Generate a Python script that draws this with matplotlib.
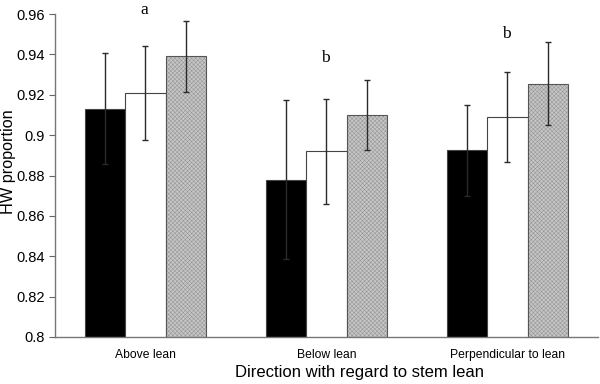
import numpy as np
import matplotlib
matplotlib.use('Agg')
import matplotlib.pyplot as plt

plt.rcParams['font.family'] = ['Liberation Sans', 'DejaVu Sans']
plt.rcParams['hatch.linewidth'] = 0.35

categories = ['Above lean', 'Below lean', 'Perpendicular to lean']
black_vals = [0.913, 0.878, 0.8925]
black_err = [0.0275, 0.0395, 0.0225]
white_vals = [0.921, 0.892, 0.909]
white_err = [0.0232, 0.026, 0.0224]
gray_vals = [0.939, 0.910, 0.9255]
gray_err = [0.0175, 0.0175, 0.0206]
letters = ['a', 'b', 'b']
letter_y = [0.962, 0.9382, 0.950]

fig = plt.figure(figsize=(6, 3.84), dpi=100)
ax = fig.add_axes([0.0915, 0.1224, 0.905, 0.841])

x = np.arange(len(categories))
w = 0.223
ekw = dict(ecolor='#2a2a2a', elinewidth=1.0, capsize=2.5, capthick=1.0)

ax.bar(x - w, black_vals, w, color='black', edgecolor='#444444', linewidth=0.8,
       yerr=black_err, error_kw=ekw)
ax.bar(x, white_vals, w, color='white', edgecolor='#444444', linewidth=0.8,
       yerr=white_err, error_kw=ekw)
# hatched fill first, then outline on top
ax.bar(x + w, gray_vals, w, color='#c6c6c6', edgecolor='#929292', linewidth=0,
       hatch='xxxxxxxx')
ax.bar(x + w, gray_vals, w, fill=False, edgecolor='#555555', linewidth=0.8,
       yerr=gray_err, error_kw=ekw)

for xi, t, yy in zip(x, letters, letter_y):
    ax.text(xi - 0.005, yy, t, ha='center', va='center', fontsize=12.5,
            family=['Liberation Serif', 'DejaVu Serif'], clip_on=False)

ax.set_ylim(0.8, 0.96)
ax.set_xlim(-0.5, 2.5)
ax.set_yticks(np.arange(0.8, 0.961, 0.02))
ax.set_yticklabels(['0.8', '0.82', '0.84', '0.86', '0.88', '0.9', '0.92', '0.94', '0.96'])
ax.set_xticks(x)
ax.set_xticklabels(categories, fontsize=8.7)
ax.tick_params(axis='x', length=0, pad=9)
ax.tick_params(axis='y', labelsize=10.5, length=4, color='#666666', direction='out')

for s in ['top', 'right']:
    ax.spines[s].set_visible(False)
for s in ['left', 'bottom']:
    ax.spines[s].set_color('#777777')
    ax.spines[s].set_linewidth(1.0)

ax.set_ylabel('HW proportion', fontsize=11.7)
ax.yaxis.set_label_coords(-0.071, 0.543)
ax.set_xlabel('Direction with regard to stem lean', fontsize=12)
ax.xaxis.set_label_coords(0.5617, -0.087)

fig.savefig('out.png', dpi=100)
